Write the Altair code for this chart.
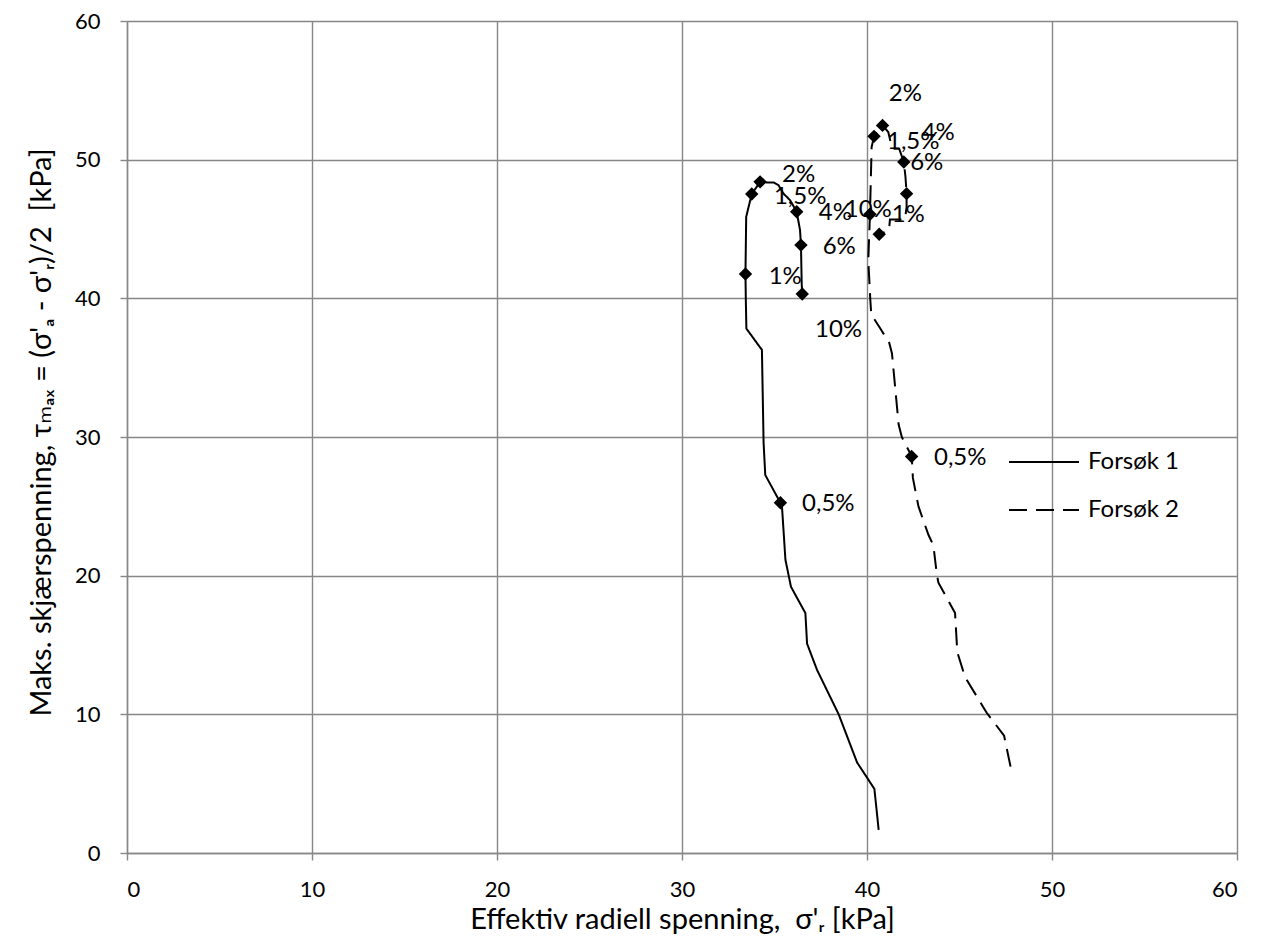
import altair as alt
import pandas as pd

# ---------------- data ----------------
series_names = ["Forsøk 1", "Forsøk 2"]

# Forsøk 1 stress path (solid)
s1_x = [40.63, 40.40, 39.46, 38.47, 37.30, 36.76, 36.67, 35.89, 35.59, 35.41, 35.32,
        34.50, 34.41, 34.32, 33.48, 33.45, 33.43, 33.47, 33.77, 34.22, 34.58, 34.94,
        35.21, 35.48, 35.84, 36.20, 36.38, 36.43, 36.47, 36.50]
s1_y = [1.67, 4.62, 6.54, 10.00, 13.20, 15.10, 17.30, 19.20, 21.15, 24.87, 25.26,
        27.26, 29.60, 36.28, 37.82, 39.90, 41.75, 45.88, 47.52, 48.40, 48.36, 48.36,
        48.17, 47.56, 47.08, 46.24, 44.92, 43.84, 41.08, 40.31]

# Forsøk 2 stress path (dashed)
s2_x = [47.76, 47.41, 46.46, 46.23, 45.30, 44.88, 44.76, 43.86, 43.77, 43.59, 43.32,
        42.78, 42.48, 42.42, 41.88, 41.71, 41.35, 41.20, 40.72, 40.23, 40.18, 40.07,
        40.16, 40.25, 40.38, 40.84, 41.15, 41.33, 41.38, 41.74, 41.99, 42.08, 42.14,
        42.14, 42.05, 41.24, 41.19, 40.66]
s2_y = [6.23, 8.46, 10.13, 10.64, 12.69, 14.49, 17.31, 19.49, 20.13, 22.18, 22.95,
        25.00, 27.05, 28.59, 30.00, 30.90, 36.03, 36.80, 37.82, 38.85, 39.87, 42.75,
        46.06, 50.91, 51.68, 52.47, 51.99, 50.96, 50.79, 50.79, 49.83, 48.75, 47.55,
        46.59, 45.68, 45.68, 44.91, 44.62]

# marked strain levels
strain_labels = ["0,5%", "1%", "1,5%", "2%", "4%", "6%", "10%"]
m1_x = [35.32, 33.43, 33.77, 34.22, 36.20, 36.43, 36.50]
m1_y = [25.26, 41.75, 47.52, 48.40, 46.24, 43.84, 40.31]
m2_x = [42.41, 40.16, 40.38, 40.84, 41.99, 42.14, 40.66]
m2_y = [28.59, 46.06, 51.68, 52.47, 49.83, 47.55, 44.62]

# data-label positions (as placed in the original)
l1_x = [37.91, 35.58, 36.39, 36.30, 38.29, 38.50, 38.46]
l1_y = [25.19, 41.55, 47.32, 48.88, 46.12, 43.71, 37.71]
l2_x = [45.04, 42.23, 42.50, 42.07, 43.85, 43.23, 40.07]
l2_y = [28.48, 46.00, 51.28, 54.77, 51.90, 49.73, 46.36]

ticks = [0, 10, 20, 30, 40, 50, 60]

x_title = "Effektiv radiell spenning,\u00a0 σ'ᵣ [kPa]"
y_title = "Maks. skjærspenning, τₘₐₓ = (σ'ₐ - σ'ᵣ)/2\u00a0 [kPa]"

# ---------------- tables ----------------
lines = pd.concat([
    pd.DataFrame({"series": series_names[0], "order": range(len(s1_x)), "x": s1_x, "y": s1_y}),
    pd.DataFrame({"series": series_names[1], "order": range(len(s2_x)), "x": s2_x, "y": s2_y}),
])
marks = pd.concat([
    pd.DataFrame({"series": series_names[0], "x": m1_x, "y": m1_y}),
    pd.DataFrame({"series": series_names[1], "x": m2_x, "y": m2_y}),
])
labels = pd.concat([
    pd.DataFrame({"series": series_names[0], "x": l1_x, "y": l1_y, "t": strain_labels}),
    pd.DataFrame({"series": series_names[1], "x": l2_x, "y": l2_y, "t": strain_labels}),
])

FONT = "Lato, DejaVu Sans, sans-serif"
GRID = "#878787"

xscale = alt.Scale(domain=[0, 60], nice=False, zero=True)
yscale = alt.Scale(domain=[0, 60], nice=False, zero=True)

x_axis = alt.Axis(values=ticks, title=x_title, labelPadding=19, titleY=75,
                  titleBaseline="alphabetic", titleFontSize=29)
y_axis = alt.Axis(values=ticks, title=y_title, labelPadding=20, titleX=-77,
                  titleY=411, titleAngle=270, titleBaseline="alphabetic",
                  titleAlign="center", titleFontSize=29)

line_layer = alt.Chart(lines).mark_line(color="black", strokeWidth=2).encode(
    x=alt.X("x:Q", scale=xscale, axis=x_axis),
    y=alt.Y("y:Q", scale=yscale, axis=y_axis),
    order="order:Q",
    strokeDash=alt.StrokeDash(
        "series:N",
        scale=alt.Scale(domain=series_names, range=[[1, 0], [18, 9]]),
        legend=alt.Legend(title=None, orient="none", legendX=881, legendY=429,
                          symbolType="stroke", symbolSize=4900, symbolStrokeWidth=2,
                          symbolStrokeColor="black", labelFont=FONT, labelFontSize=24,
                          labelColor="black", labelOffset=8, rowPadding=24,
                          clipHeight=24, padding=0),
    ),
)

point_layer = alt.Chart(marks).mark_point(
    shape="diamond", filled=True, color="black", size=180, opacity=1
).encode(x=alt.X("x:Q", scale=xscale), y=alt.Y("y:Q", scale=yscale))

text_layer = alt.Chart(labels).mark_text(
    font=FONT, fontSize=24, color="black", align="center", baseline="middle"
).encode(x=alt.X("x:Q", scale=xscale), y=alt.Y("y:Q", scale=yscale), text="t:N")

chart = alt.layer(line_layer, point_layer, text_layer).properties(
    width=1110,
    height=832,
    autosize=alt.AutoSizeParams(type="none"),
    padding={"left": 119, "top": 13, "right": 16, "bottom": 90},
).configure_view(strokeWidth=0).configure_axis(
    grid=True, gridColor=GRID, gridWidth=1.4,
    domainColor=GRID, domainWidth=1.4,
    tickColor=GRID, tickWidth=1.4, tickSize=7,
    labelFont=FONT, labelFontSize=22, labelColor="black",
    titleFont=FONT, titleFontSize=29, titleColor="black", titleFontWeight="normal",
)

chart.save("out.html", embed_options={"renderer": "svg", "actions": False})
